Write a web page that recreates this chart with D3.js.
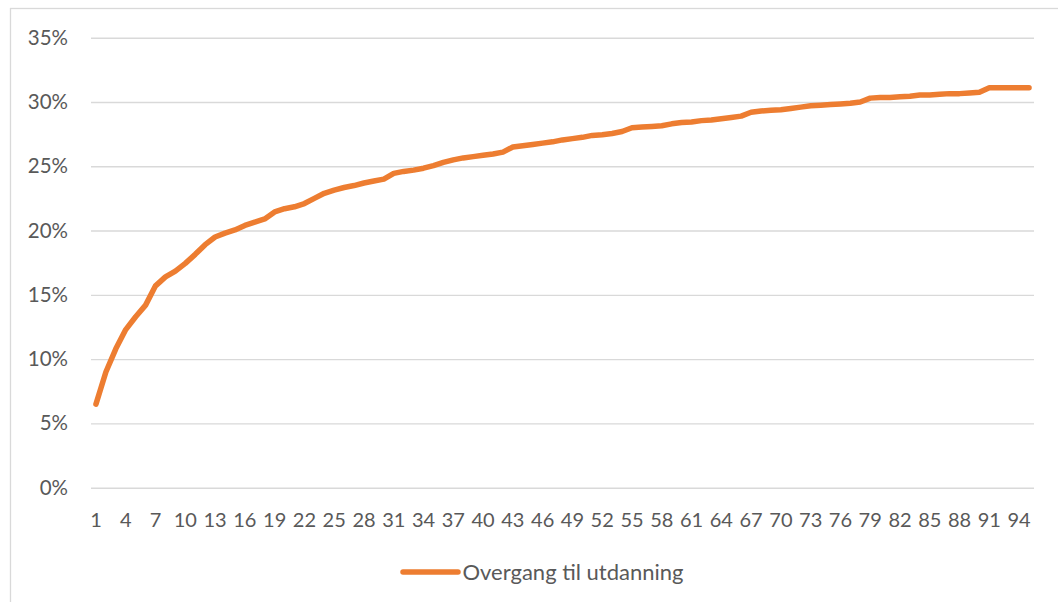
<!DOCTYPE html>
<html>
<head>
<meta charset="utf-8">
<script src="https://cdn.jsdelivr.net/npm/d3@7"></script>
<style>
  html, body { margin: 0; padding: 0; background: #fff; }
  svg { display: block; }
  text { font-family: Lato, "Open Sans", sans-serif; fill: #595959; }
</style>
</head>
<body>
<svg id="chart" width="1058" height="602"></svg>
<script>
// ---- data ----
const categories = d3.range(1, 96);
const seriesName = "Overgang til utdanning";
const values = [
  6.5, 9.0, 10.8, 12.3, 13.3, 14.2, 15.7, 16.4, 16.85, 17.45,
  18.15, 18.9, 19.5, 19.8, 20.05, 20.4, 20.65, 20.9, 21.45, 21.7,
  21.85, 22.1, 22.5, 22.9, 23.15, 23.35, 23.5, 23.7, 23.85, 24.0,
  24.45, 24.6, 24.7, 24.85, 25.05, 25.3, 25.5, 25.65, 25.75, 25.85,
  25.95, 26.1, 26.5, 26.6, 26.7, 26.8, 26.9, 27.05, 27.15, 27.25,
  27.4, 27.45, 27.55, 27.7, 28.0, 28.05, 28.1, 28.15, 28.3, 28.4,
  28.45, 28.55, 28.6, 28.7, 28.8, 28.9, 29.2, 29.3, 29.35, 29.4,
  29.5, 29.6, 29.7, 29.75, 29.8, 29.85, 29.9, 30.0, 30.3, 30.35,
  30.35, 30.4, 30.45, 30.55, 30.55, 30.6, 30.65, 30.65, 30.7, 30.75,
  31.1, 31.1, 31.1, 31.1, 31.1
].map(v => v / 100);
const yTicks = [0, 0.05, 0.10, 0.15, 0.20, 0.25, 0.30, 0.35];
const xTickLabels = categories.filter((c, i) => i % 3 === 0);

// ---- layout ----
const svg = d3.select("#chart");
const plot = { left: 91, right: 1034, top: 37.7, bottom: 487.7 };
const color = "#ED7D31";
const gridColor = "#d9d9d9";

svg.append("rect").attr("x", 0).attr("y", 0).attr("width", 1058).attr("height", 602).attr("fill", "#fff");
svg.append("rect").attr("x", 10.5).attr("y", 8.5).attr("width", 1100).attr("height", 700)
  .attr("fill", "none").attr("stroke", gridColor).attr("stroke-width", 1.3);

const x = d3.scaleBand().domain(categories).range([plot.left, plot.right]).paddingInner(0).paddingOuter(0);
const y = d3.scaleLinear().domain([0, 0.35]).range([plot.bottom, plot.top]);

// gridlines + y labels
const yAxis = d3.axisLeft(y).tickValues(yTicks).tickFormat(d3.format(".0%"))
  .tickSize(-(plot.right - plot.left)).tickPadding(23);
const gy = svg.append("g").attr("transform", `translate(${plot.left},0)`).call(yAxis);
gy.select(".domain").remove();
gy.selectAll(".tick line").attr("stroke", gridColor).attr("stroke-width", 1.4);
gy.selectAll(".tick text").attr("font-size", 20.5).attr("fill", "#595959")
  .attr("font-family", "Lato, 'Open Sans', sans-serif");

// x labels
const xAxis = d3.axisBottom(x).tickValues(xTickLabels).tickSize(0).tickPadding(0);
const gx = svg.append("g").attr("transform", `translate(0,${plot.bottom})`).call(xAxis);
gx.select(".domain").remove();
gx.selectAll(".tick text").attr("font-size", 20).attr("fill", "#595959")
  .attr("font-family", "Lato, 'Open Sans', sans-serif")
  .attr("dy", null).attr("y", 39.5);

// line
const line = d3.line()
  .x((d, i) => x(categories[i]) + x.bandwidth() / 2)
  .y(d => y(d));
svg.append("path").datum(values)
  .attr("d", line)
  .attr("fill", "none")
  .attr("stroke", color)
  .attr("stroke-width", 5.5)
  .attr("stroke-linejoin", "round")
  .attr("stroke-linecap", "round");

// legend
const lg = svg.append("g");
lg.append("line").attr("x1", 403).attr("x2", 458).attr("y1", 572).attr("y2", 572)
  .attr("stroke", color).attr("stroke-width", 5.5).attr("stroke-linecap", "round");
lg.append("text").attr("x", 462.5).attr("y", 580).attr("font-size", 22).text(seriesName);
</script>
</body>
</html>
